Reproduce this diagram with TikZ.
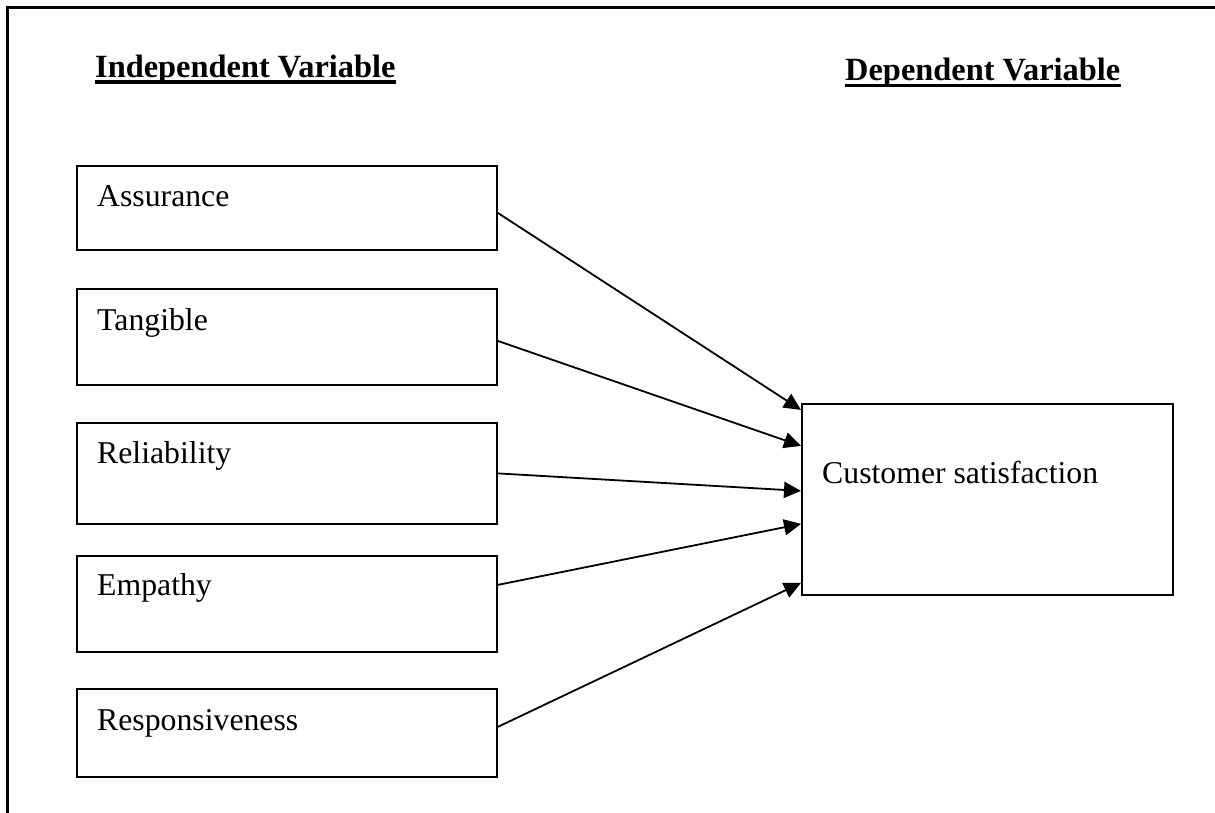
\documentclass[tikz,border=0pt]{standalone}
\usepackage{fontspec}
\setmainfont{Liberation Serif}
\usetikzlibrary{arrows.meta,calc}
\begin{document}
\begin{tikzpicture}[x=1pt,y=-1pt,
  box/.style={draw,line width=1.8pt,inner sep=0pt,anchor=north west},
  lbl/.style={inner sep=0pt,anchor=base west,font=\fontsize{31.75}{38}\selectfont},
  head/.style={inner sep=0pt,anchor=base west,font=\fontsize{32.4}{38}\selectfont\bfseries},
  uline/.style={line width=3.2pt},
  conn/.style={line width=1.8pt,-{Triangle[length=17pt,width=16pt]}},
  frame/.style={line width=3pt}]
\useasboundingbox (0,0) rectangle (1215,813);
% frame (top and left only)
\coordinate (ftr) at (1215,8);
\coordinate (ftl) at (7,8);
\coordinate (fbl) at (7,813);
\draw[frame] (ftr) -- (ftl) -- (fbl);
% headings
\node[head] (ind) at (95,78) {Independent Variable};
\node[head] (dep) at (845,81) {Dependent Variable};
\draw[uline] ($(ind.base west)+(0,4)$) -- ($(ind.base east)+(0,4)$);
\draw[uline] ($(dep.base west)+(0,4.5)$) -- ($(dep.base east)+(0,4.5)$);
% independent boxes
\node[box,minimum width=420,minimum height=84] (a) at (76,165) {};
\node[box,minimum width=420,minimum height=96] (t) at (76,288) {};
\node[box,minimum width=420,minimum height=101] (r) at (76,422) {};
\node[box,minimum width=420,minimum height=96] (e) at (76,555) {};
\node[box,minimum width=420,minimum height=88] (s) at (76,688) {};
\node[lbl] (at) at (97,207) {Assurance};
\node[lbl] (tt) at (97,330) {Tangible};
\node[lbl] (rt) at (97,463) {Reliability};
\node[lbl] (et) at (97,595) {Empathy};
\node[lbl] (st) at (97,730) {Responsiveness};
% dependent box
\node[box,minimum width=371,minimum height=191] (c) at (801,403) {};
\node[lbl] (ct) at (822,483) {Customer satisfaction};
% connectors
\draw[conn] ($(a.east)+(0,5)$) -- ($(c.west)+(0,-89.5)$);
\draw[conn] ($(t.east)+(0,4)$) -- ($(c.west)+(0,-53.5)$);
\draw[conn] ($(r.east)+(0,0)$) -- ($(c.west)+(0,-8.5)$);
\draw[conn] ($(e.east)+(0,-19)$) -- ($(c.west)+(0,24.5)$);
\draw[conn] ($(s.east)+(0,-6)$) -- ($(c.west)+(0,83.5)$);
\end{tikzpicture}
\end{document}
